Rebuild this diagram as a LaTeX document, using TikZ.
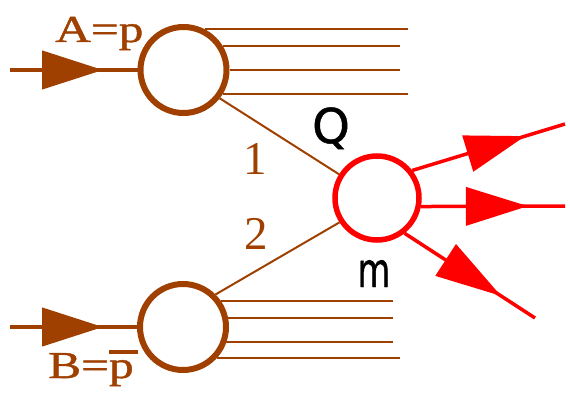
\documentclass[tikz,border=0pt]{standalone}
\usepackage{fontspec}
\setmainfont{Liberation Serif}
\newfontfamily\labelsans[FakeBold=1]{DejaVu Sans}
\newfontfamily\labelserif[FakeBold=1]{Liberation Serif}
\usetikzlibrary{arrows.meta,decorations.markings}
\definecolor{hbrown}{RGB}{160,64,0}
\definecolor{hred}{RGB}{255,0,0}
\begin{document}
\begin{tikzpicture}[x=1pt,y=-1pt,
  blob/.style={circle, draw=hbrown, line width=6pt, minimum size=86pt, inner sep=0pt},
  hub/.style={circle, draw=hred, line width=5.5pt, minimum size=84pt, inner sep=0pt},
  beam/.style={color=hbrown, line width=4.5pt},
  jet/.style={color=hbrown, line width=2pt},
  prop/.style={color=hbrown, line width=2pt},
  outgo/.style={color=hred, line width=3.5pt},
  midhead/.style n args={3}{postaction={decorate},
    decoration={markings, mark=at position #1 with {\arrow{Triangle[length=#2,width=#3]}}}},
  serlbl/.style={text=hbrown, inner sep=0pt, font=\labelserif\fontsize{38}{38}\selectfont},
  numlbl/.style={text=hbrown, inner sep=0pt, font=\fontsize{47}{47}\selectfont},
  sanslbl/.style={text=black, inner sep=0pt, font=\labelsans\fontsize{48}{48}\selectfont}]
\useasboundingbox (0,0) rectangle (570,396);

% nodes
\node[blob] (A) at (183.5,70) {};
\node[blob] (B) at (183,327) {};
\node[hub]  (R) at (377,198) {};

\coordinate (inA) at (10,70);
\coordinate (inB) at (10,327);
\coordinate (endA) at (408,0);
\coordinate (endAi) at (400,0);
\coordinate (endB) at (393,0);
\coordinate (endBo) at (400,0);
\coordinate (o1) at (565,124);
\coordinate (o2) at (565,206);
\coordinate (o3) at (535,318);

% incoming beams
\draw[beam, midhead={93pt}{61pt}{38pt}] (inA) -- (A);
\draw[beam, midhead={93pt}{61pt}{38pt}] (inB) -- (B);

% spectator jets
\draw[jet] (A.62) -- (A.62 -| endA);
\draw[jet] (A.31) -- (A.31 -| endAi);
\draw[jet] (A.0) -- (A.0 -| endAi);
\draw[jet] (A.-31) -- (A.-31 -| endA);

\draw[jet] (B.34) -- (B.34 -| endB);
\draw[jet] (B.11) -- (B.11 -| endB);
\draw[jet] (B.-19) -- (B.-19 -| endB);
\draw[jet] (B.-42) -- (B.-42 -| endBo);

% partons
\draw[prop] (A.-38) -- (R.148);
\draw[prop] (B.45) -- (R.213);

% outgoing
\draw[outgo, midhead={118pt}{60pt}{37pt}] (R.38) -- (o1);
\draw[outgo, midhead={107pt}{62pt}{38pt}] (R.-11) -- (o2);
\draw[outgo, midhead={115pt}{66pt}{37pt}] (R.-52) -- (o3);

% labels
\node[serlbl, anchor=base west] (la) at (55,42) {\scalebox{1.3}[1]{A=p}};
\node[serlbl, anchor=base west] (lb) at (48,378) {\scalebox{1.3}[1]{B=\rlap{\rule[24pt]{22pt}{4pt}}p}};
\node[numlbl] (l1) at (255.5,159) {1};
\node[numlbl] (l2) at (256.5,234) {2};
\node[sanslbl, anchor=base] (lq) at (331,143) {Q};
\node[sanslbl, anchor=base] (lm) at (374,287) {\scalebox{0.7}[1]{m}};
\end{tikzpicture}
\end{document}
